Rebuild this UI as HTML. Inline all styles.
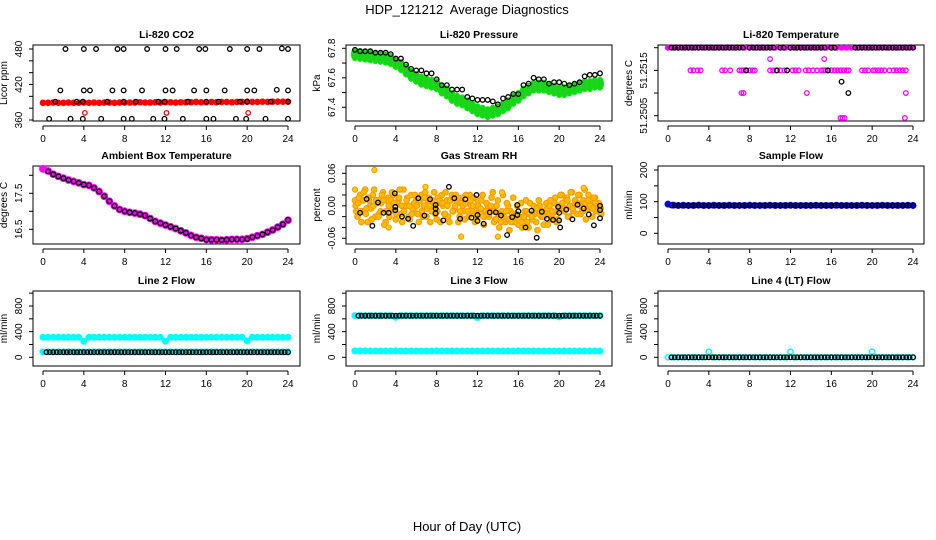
<!DOCTYPE html>
<html><head><meta charset="utf-8">
<style>
html,body{margin:0;padding:0;background:#fff;}
svg{display:block;font-family:"Liberation Sans",sans-serif;}
</style></head>
<body>
<svg id="chart" width="936" height="540" viewBox="0 0 936 540" xmlns="http://www.w3.org/2000/svg">
<rect x="0" y="0" width="936" height="540" fill="#fff"/>
<text x="467" y="14" text-anchor="middle" font-size="13" style="white-space:pre">HDP_121212  Average Diagnostics</text>
<text x="467" y="531" text-anchor="middle" font-size="13">Hour of Day (UTC)</text>
</svg>
<script>
// ---------- data ----------
const xTicks = [0,4,8,12,16,20,24];

const co2Ticks = [360,380,400,420,440,460,480];
const co2Labels = [360,420,480];
const co2Red = [389,389,389.5,389,389,389.5,389,389,389.5,389,389.5,389,389.5,389.5,389,389.5,389.5,389.5,389.5,390,389.5,389.5,390,389.5,390,390,389.5,390,390,390,390.5,390,390,390.5,390,390.5,390.5,390,390.5,390.5,391,390.5,390.5,391,390.5,391,391,391,391];
const co2RedOutT = [4.1,12.1,20.1];
const co2RedOutV = [372,372,372];
const co2BlackT = [2.2,4,5.2,7.3,7.9,10.2,12,13.1,15.3,15.9,18.3,20,21.2,23.4,24,
 1.7,4,4.6,6.8,7.9,9.7,12,12.7,14.8,16,17.8,20,20.7,22.9,24,
 1.2,3.3,3.9,6.3,7.9,9.1,11.3,11.9,14.2,16,17.2,19.3,20,22.3,24,
 0.6,2.7,3.9,5.7,7.9,8.7,10.8,11.9,13.7,16,16.7,18.9,19.9,21.8,24];
const co2BlackV = [480,480,480,480,480,480,480,480,480,480,480,480,480,481,480,
 410,410,410,410,410,410,410,410,410,410,410,410,410,411,410,
 391,391,391,391,391,391,391,391,391,391,391,391,391,391,391,
 362,362,362,362,362,362,362,362,362,362,362,362,362,362,362];

const presTicks = [67.4,67.5,67.6,67.7,67.8];
const presLabels = [67.4,67.6,67.8];
const presGreen = [67.76,67.755,67.75,67.745,67.74,67.735,67.73,67.72,67.70,67.68,67.65,67.62,67.60,67.58,67.57,67.56,67.55,67.52,67.50,67.47,67.45,67.44,67.42,67.40,67.38,67.37,67.36,67.37,67.38,67.40,67.42,67.45,67.47,67.50,67.52,67.54,67.54,67.54,67.53,67.52,67.51,67.51,67.52,67.53,67.54,67.55,67.55,67.56,67.56];
const presBlack = [67.79,67.78,67.78,67.78,67.77,67.77,67.77,67.76,67.73,67.73,67.69,67.66,67.65,67.65,67.63,67.63,67.59,67.55,67.55,67.52,67.52,67.52,67.47,67.46,67.45,67.45,67.45,67.44,67.42,67.46,67.47,67.49,67.49,67.55,67.56,67.60,67.59,67.59,67.56,67.57,67.57,67.56,67.55,67.56,67.57,67.61,67.62,67.62,67.63];

const tempTicks = [51.2505,51.251,51.2515,51.252];
const tempLabels = [51.2505,51.2515];
const tempMagTop = [51.252,51.252,51.252,51.252,51.252,51.252,51.252,51.252,51.252,51.252,51.252,51.252,51.252,51.252,51.252,51.252,51.252,51.252,51.252,51.252,51.252,51.252,51.252,51.252,51.252,51.252,51.252,51.252,51.252,51.252,51.252,51.252,51.252,51.252,51.252,51.252,51.252,51.252,51.252,51.252,51.252,51.252,51.252,51.252,51.252,51.252,51.252,51.252,51.252];
const tempMagExtraT = [2.2,2.5,2.9,3.2,5.3,5.6,6.1,7.0,7.2,7.4,7.6,8.0,8.3,8.5,10.0,10.3,10.6,11.0,11.4,12.2,12.5,12.8,13.5,13.8,14.2,14.6,15.0,15.2,15.4,15.6,16.0,16.3,16.6,16.9,17.2,17.5,17.7,19.0,19.3,19.6,20.1,20.3,20.6,20.9,21.2,21.7,22.1,22.4,22.7,23.0,23.3,
 10.0,15.3, 7.2,7.4,13.6,23.3, 16.9,17.1,17.3,23.2];
const tempMagExtraV = [51.2515,51.2515,51.2515,51.2515,51.2515,51.2515,51.2515,51.2515,51.2515,51.2515,51.2515,51.2515,51.2515,51.2515,51.2515,51.2515,51.2515,51.2515,51.2515,51.2515,51.2515,51.2515,51.2515,51.2515,51.2515,51.2515,51.2515,51.2515,51.2515,51.2515,51.2515,51.2515,51.2515,51.2515,51.2515,51.2515,51.2515,51.2515,51.2515,51.2515,51.2515,51.2515,51.2515,51.2515,51.2515,51.2515,51.2515,51.2515,51.2515,51.2515,51.2515,
 51.25175,51.25175, 51.251,51.251,51.251,51.251, 51.25045,51.25045,51.25045,51.25045];
const tempBlack = [null,
 51.252,51.252,51.252,51.252,51.252,51.252,51.252,51.252,51.252,51.252,51.252,51.252,51.252,51.252,51.252,51.252,51.252,51.252,51.252,51.252,51.252,51.252,
 51.2515,
 51.252,51.252,51.252,51.252,51.252,51.252,51.252,51.252,
 51.2515,
 51.252,51.252,
 51.2515,
 51.252,51.252,51.252,51.252,51.252,51.252,51.252,51.252,51.252,51.252,51.252,
 51.2515,
 51.252,51.252,
 null,51.25125,null,51.251,null,
 51.252,51.252,51.252,51.252,51.252,51.252,51.252,51.252,51.252,51.252,51.252,51.252,51.252,51.252,51.252,51.252,51.252,51.252];

const ambTicks = [16.5,17,17.5,18];
const ambLabels = [16.5,17.5];
const ambMagenta = [18.18,18.12,18.03,17.97,17.92,17.87,17.83,17.79,17.74,17.72,17.65,17.55,17.42,17.28,17.15,17.05,17.0,16.97,16.95,16.92,16.88,16.8,16.72,16.67,16.62,16.57,16.52,16.46,16.4,16.33,16.28,16.25,16.22,16.21,16.21,16.2,16.21,16.22,16.22,16.22,16.24,16.28,16.32,16.36,16.42,16.48,16.56,16.64,16.75];
const ambBlack = [18.11,18.03,17.97,17.92,17.87,17.83,17.79,17.74,17.72,17.65,17.55,17.42,17.28,17.15,17.05,17.0,16.97,16.95,16.92,16.88,16.8,16.72,16.67,16.62,16.57,16.52,16.46,16.4,16.33,16.28,16.25,16.21,16.21,16.21,16.2,16.21,16.22,16.22,16.22,16.23,16.28,16.32,16.36,16.42,16.48,16.56,16.64,16.76];

const rhTicks = [-0.06,-0.04,-0.02,0,0.02,0.04,0.06];
const rhLabels = ["-0.06","0.00","0.06"];
const rhLabelVals = [-0.06,0,0.06];
const rhOrangeA = [.01,-.02,.02,-.01,.03,-.03,.0,.02,-.02,.01,-.01,.025,-.03,.015,-.005,.02,-.025,.01,-.015,.03,.0,-.02,.02,-.01,.01,-.03,.02,.0,-.02,.015,-.01,.025,-.025,.005,.02,-.015,.01,-.03,.02,-.005,.01,-.02,.015,-.025,.005,.02,-.01,-.03,.01,-.015,.02,-.02,.0,-.01,.025,-.025,.01,-.015,.02,-.03,.0,-.01,.015,-.02,-.035,.005,-.025,.01,-.04,-.015,.0,-.03,.01,-.02,-.035,.005,-.015,-.025,.01,-.03,.0,.02,-.01,.015,-.02,.025,.0,-.015,.02,-.01,.03,-.005,.01,-.02,.015,-.01,.0];
const rhOrangeB = [-.01,.015,-.03,.025,-.005,.01,-.025,.03,.005,-.015,.02,-.035,.01,-.02,.025,-.01,.005,.03,-.03,.0,.015,-.025,-.005,.02,-.015,.01,-.02,.025,.01,-.03,.005,-.015,.015,-.03,.0,.025,-.02,.01,-.01,.02,-.03,.005,-.01,.02,-.02,.0,.015,-.025,-.005,.01,-.035,.005,-.02,.015,-.03,.0,-.04,-.01,-.025,.005,-.045,-.015,-.03,.0,-.02,-.04,-.01,-.03,.005,-.025,-.015,-.045,.0,-.02,-.01,-.035,.01,-.015,.015,-.025,.02,-.005,.01,-.02,.025,-.01,.005,.02,-.015,.01,-.025,.02,-.005,.015,-.01,.005,-.015];
const rhOrangeC = [.0,.005,-.01,.01,-.015,.015,-.005,.0,.01,-.02,.005,.01,-.01,.0,.01,.005,-.015,.015,.0,-.01,.01,.0,-.015,.005,.0,.01,-.01,.015,-.005,.0,.01,.0,-.01,.01,.005,-.015,.0,.01,-.01,.0,.015,-.01,.0,.005,-.01,.01,.0,-.015,.0,-.005,-.02,-.01,-.015,.0,-.01,-.025,-.015,-.03,-.02,-.01,-.025,-.03,-.02,-.015,-.025,-.03,-.02,-.01,-.015,-.02,-.01,-.005,-.015,-.01,-.02,-.005,.0,-.01,.005,-.01,.0,.005,-.005,.01,.0,-.005,.01,.005,.0,-.01,.005,.01,.0,-.005,.005,.0,-.005];
const rhOrangeOutT = [1.9,6.9,0,14.4,22.4,10.4,14,3.3];
const rhOrangeOutV = [0.066,0.035,0.03,0.025,0.033,-0.057,-0.057,-0.04];
const rhBlackT = [0.5,1.14,1.7,2.25,2.8,3.3,3.9,3.95,3.95,4.6,5.2,5.7,6.2,6.8,7.35,7.9,7.9,7.9,8.65,9.2,9.73,10.3,10.8,11.4,11.9,12,12,12.6,13.2,13.8,14.3,14.9,15.4,15.9,16,15.9,16.7,17.3,17.8,18.3,18.8,19.4,19.9,20,20,20.1,20.7,21.3,21.8,22.4,22.9,23.4,24,24,24];
const rhBlackV = [-0.013,0.0126,-0.037,0.006,-0.013,-0.013,0.023,-0.002,-0.008,-0.02,-0.024,-0.037,0.014,-0.018,0.012,0.0015,-0.005,-0.014,-0.027,0.035,0.014,-0.024,0.012,-0.022,0.02,-0.017,-0.028,-0.033,-0.012,-0.012,-0.018,-0.054,-0.021,0.0015,-0.01,-0.017,-0.04,-0.009,-0.059,-0.011,-0.024,-0.026,-0.002,-0.013,-0.027,-0.04,-0.007,-0.025,0.002,-0.005,-0.016,-0.036,0,-0.008,-0.023];

const sfTicks = [0,50,100,150,200];
const sfLabels = [0,100,200];
const sfBlue = [92,89,88,88.5,88,88,89,88,88,88.5,88,88,88.5,88,88,88,88.5,88,88,88,88.5,88,88,88,88.5,88,88,88,88,88.5,88,88,88,88.5,88,88,88,88,88.5,88,88,88,88.5,88,88,88,88,88.5,88];
const sfBlack = [88,88,88,88,88,88,88,88,88,88,88,88,88,88,88,88,88,88,88,88,88,88,88,88,88,88,88,88,88,88,88,88,88,88,88,88,88,88,88,88,88,88,88,88,88,88,88,88,88,88,88,88,88,88,88,88,88,88,88,88,88,88,88,88,88,88,88,88,88,88,88,88];

const flowTicks = [0,200,400,600,800,1000];
const flowLabels = [0,400,800];
const l2CyanHigh = [312,312,312,312,312,312,312,312,250,312,312,312,312,312,312,312,312,312,312,312,312,312,312,312,250,312,312,312,312,312,312,312,312,312,312,312,312,312,312,312,255,312,312,312,312,312,312,312,312];
const l2CyanLow = [85,85,85,85,85,85,85,85,85,85,85,85,85,85,85,85,85,85,85,85,85,85,85,85,85,85,85,85,85,85,85,85,85,85,85,85,85,85,85,85,85,85,85,85,85,85,85,85,85];
const l2Black = [80,80,80,80,80,80,80,80,80,80,80,80,80,80,80,80,80,80,80,80,80,80,80,80,80,80,80,80,80,80,80,80,80,80,80,80,80,80,80,80,80,80,80,80,80,80,80,80,80,80,80,80,80,80,80,80,80,80,80,80,80,80,80,80,80,80,80,80,80,80,80,80];
const l3CyanHigh = [650,650,650,650,650,650,650,650,625,650,650,650,650,650,650,650,650,650,650,650,650,650,650,650,620,650,650,650,650,650,650,650,650,650,650,650,650,650,650,650,630,650,650,650,650,650,650,650,650];
const l3CyanLow = [100,100,100,98,98,98,98,98,100,98,98,98,98,98,98,98,100,98,98,98,98,98,98,98,98,98,98,98,98,98,98,98,100,98,98,98,98,98,98,98,98,98,98,98,98,98,98,98,98];
const l3Black = [648,648,648,648,648,648,648,648,648,648,648,648,648,648,648,648,648,648,648,648,648,648,648,648,648,648,648,648,648,648,648,648,648,648,648,648,648,648,648,648,648,648,648,648,648,648,648,648,648,648,648,648,648,648,648,648,648,648,648,648,648,648,648,648,648,648,648,648,648,648,648,648];
const l4Cyan = [0,0,0,0,0,0,0,0,87,0,0,0,0,0,0,0,0,0,0,0,0,0,0,0,87,0,0,0,0,0,0,0,0,0,0,0,0,0,0,0,87,0,0,0,0,0,0,0,0];
const l4Black = [0,0,0,0,0,0,0,0,0,0,0,0,0,0,0,0,0,0,0,0,0,0,0,0,0,0,0,0,0,0,0,0,0,0,0,0,0,0,0,0,0,0,0,0,0,0,0,0,0,0,0,0,0,0,0,0,0,0,0,0,0,0,0,0,0,0,0,0,0,0,0,0];

// ---------- layout ----------
const NS = "http://www.w3.org/2000/svg";
const svg = document.getElementById('chart');
const COLS = [{bx0:33,bx1:300,t0:43,t24:288},{bx0:346,bx1:612,t0:355,t24:600},{bx0:658,bx1:924,t0:668,t24:913}];
const ROWS = [{by0:45,by1:121},{by0:166,by1:244},{by0:291,by1:366}];

function el(tag, attrs, parent){
  const e = document.createElementNS(NS, tag);
  for (const k in attrs) e.setAttribute(k, attrs[k]);
  (parent||svg).appendChild(e);
  return e;
}

function makePanel(id, col, row, title, ylab, vA, pA, vB, pB, ticks, labVals, labTexts){
  const C = COLS[col], R = ROWS[row];
  const g = el('g', {});
  
  
  const xs = t => C.t0 + t * (C.t24 - C.t0) / 24;
  const ys = v => pA + (v - vA) * (pB - pA) / (vB - vA);
  const box = el('rect', {x:C.bx0, y:R.by0, width:C.bx1-C.bx0, height:R.by1-R.by0, fill:'none', stroke:'#000', 'stroke-width':1}, g);
  
  
  const tt = el('text', {x:(C.bx0+C.bx1)/2, y:R.by0-7, 'text-anchor':'middle', 'font-size':10.5, 'font-weight':'bold'}, g);
  tt.textContent = title;
  
  
  const yl = el('text', {x:0, y:0, 'text-anchor':'middle', 'font-size':10, transform:`translate(${C.bx0-26},${(R.by0+R.by1)/2}) rotate(-90)`}, g);
  yl.textContent = ylab;
  
  
  const ay = R.by1 + 5;
  const xl = el('line', {x1:xs(0), x2:xs(24), y1:ay, y2:ay, stroke:'#000'}, g);
  
  
  xTicks.forEach(t => {
    const tk = el('line', {x1:xs(t), x2:xs(t), y1:ay, y2:ay+4, stroke:'#000'}, g);
    
    
    const lb = el('text', {x:xs(t), y:ay+16, 'text-anchor':'middle', 'font-size':10}, g);
    lb.textContent = t;
    
    
  });
  ticks.forEach(v => {
    const tk = el('line', {x1:C.bx0-4, x2:C.bx0, y1:ys(v), y2:ys(v), stroke:'#000'}, g);
    
    
  });
  labVals.forEach((v, i) => {
    const lb = el('text', {x:0, y:0, 'text-anchor':'middle', 'font-size':10, transform:`translate(${C.bx0-11},${ys(v)}) rotate(-90)`}, g);
    lb.textContent = labTexts ? labTexts[i] : v;
    
    
  });
  const clip = el('g', {}, g);
  return {g, xs, ys, clip};
}

function series(P, vals, opts, name, times){
  vals.forEach((v, i) => {
    if (v === null) return;
    const t = times ? times[i] : (opts.start + i * opts.step);
    let c;
    if (opts.ry) {
      c = el('ellipse', {cx:P.xs(t), cy:P.ys(v), rx:opts.r, ry:opts.ry, fill:opts.fill||'none', stroke:opts.stroke, 'stroke-width':opts.sw||1.2}, P.clip);
    } else {
      c = el('circle', {cx:P.xs(t), cy:P.ys(v), r:opts.r, fill:opts.fill||'none', stroke:opts.stroke, 'stroke-width':opts.sw||1.2}, P.clip);
    }
    
    
  });
}

const BLK = {r:2.3, stroke:'#000', sw:1.3};

const p1 = makePanel('co2', 0, 0, 'Li-820 CO2', 'Licor ppm', 360, 120, 480, 49, co2Ticks, co2Labels);
series(p1, co2Red, {start:0, step:0.5, r:2.8, stroke:'#ff0000', fill:'#ff0000', sw:1}, 'co2-red-point');
series(p1, co2RedOutV, {r:2.3, stroke:'#ff0000', sw:1.3}, 'co2-red-outlier', co2RedOutT);
series(p1, co2BlackV, BLK, 'co2-black-point', co2BlackT);

const p2 = makePanel('pressure', 1, 0, 'Li-820 Pressure', 'kPa', 67.4, 107.3, 67.8, 48.3, presTicks, presLabels);
series(p2, presGreen, {start:0, step:0.5, r:3.5, ry:6.5, stroke:'#00ee00', fill:'#20d020', sw:1}, 'pressure-green-point');
series(p2, presBlack, {start:0, step:0.5, r:2.3, stroke:'#000', sw:1.3}, 'pressure-black-point');

const p3 = makePanel('li820-temp', 2, 0, 'Li-820 Temperature', 'degrees C', 51.2505, 115.7, 51.252, 47.7, tempTicks, tempLabels);
series(p3, tempMagTop, {start:0, step:0.5, r:2.6, stroke:'#ff00ff', fill:'#ff00ff', sw:1}, 'temp-magenta-point');
series(p3, tempMagExtraV, {r:2.3, stroke:'#ff00ff', sw:1.3}, 'temp-magenta-point', tempMagExtraT);
series(p3, tempBlack, {start:0, step:1/3, r:2.3, stroke:'#000', sw:1.3}, 'temp-black-point');

const p4 = makePanel('ambient-temp', 0, 1, 'Ambient Box Temperature', 'degrees C', 16.5, 229.3, 17.5, 193.3, ambTicks, ambLabels);
series(p4, ambMagenta, {start:0, step:0.5, r:3.4, stroke:'#ff00ff', fill:'#ff00ff', sw:1}, 'ambient-magenta-point');
series(p4, ambBlack, {start:0.5, step:0.5, r:2.3, stroke:'#000', sw:1.3}, 'ambient-black-point');

const p5 = makePanel('gas-rh', 1, 1, 'Gas Stream RH', 'percent', -0.06, 238.3, 0.06, 173.3, rhTicks, rhLabelVals, rhLabels);
series(p5, rhOrangeA, {start:0, step:0.25, r:2.8, stroke:'#ff9900', fill:'#f0c000', sw:1.1}, 'rh-orange-point');
series(p5, rhOrangeB, {start:0.125, step:0.25, r:2.8, stroke:'#ff9900', fill:'#f0c000', sw:1.1}, 'rh-orange-point');
series(p5, rhOrangeC, {start:0.06, step:0.25, r:2.8, stroke:'#ff9900', fill:'#f0c000', sw:1.1}, 'rh-orange-point');
series(p5, rhOrangeOutV, {r:2.6, stroke:'#ff9900', fill:'#ffd000', sw:1.1}, 'rh-orange-outlier', rhOrangeOutT);
series(p5, rhBlackV, BLK, 'rh-black-point', rhBlackT);

const p6 = makePanel('sample-flow', 2, 1, 'Sample Flow', 'ml/min', 0, 233.3, 200, 170, sfTicks, sfLabels);
series(p6, sfBlue, {start:0, step:0.5, r:3, stroke:'#0000ff', fill:'#0000ff', sw:1}, 'sample-flow-blue-point');
series(p6, sfBlack, {start:1/3, step:1/3, r:2.3, stroke:'#000', sw:1.3}, 'sample-flow-black-point');

const p7 = makePanel('line2-flow', 0, 2, 'Line 2 Flow', 'ml/min', 0, 357.3, 800, 306, flowTicks, flowLabels);
series(p7, l2CyanHigh, {start:0, step:0.5, r:3, stroke:'#00ffff', fill:'#00ffff', sw:1}, 'line2-cyan-point');
series(p7, l2CyanLow, {start:0, step:0.5, r:3, stroke:'#00ffff', fill:'#00ffff', sw:1}, 'line2-cyan-point');
series(p7, l2Black, {start:1/3, step:1/3, r:2.3, stroke:'#000', sw:1.3}, 'line2-black-point');

const p8 = makePanel('line3-flow', 1, 2, 'Line 3 Flow', 'ml/min', 0, 357.3, 800, 306, flowTicks, flowLabels);
series(p8, l3CyanHigh, {start:0, step:0.5, r:3, stroke:'#00ffff', fill:'#00ffff', sw:1}, 'line3-cyan-point');
series(p8, l3CyanLow, {start:0, step:0.5, r:3, stroke:'#00ffff', fill:'#00ffff', sw:1}, 'line3-cyan-point');
series(p8, l3Black, {start:1/3, step:1/3, r:2.3, stroke:'#000', sw:1.3}, 'line3-black-point');

const p9 = makePanel('line4-flow', 2, 2, 'Line 4 (LT) Flow', 'ml/min', 0, 357.3, 800, 306, flowTicks, flowLabels);
series(p9, l4Cyan, {start:0, step:0.5, r:2.6, stroke:'#00ffff', sw:1.5}, 'line4-cyan-point');
series(p9, l4Black, {start:1/3, step:1/3, r:2.3, stroke:'#000', sw:1.3}, 'line4-black-point');
</script>
</body></html>
